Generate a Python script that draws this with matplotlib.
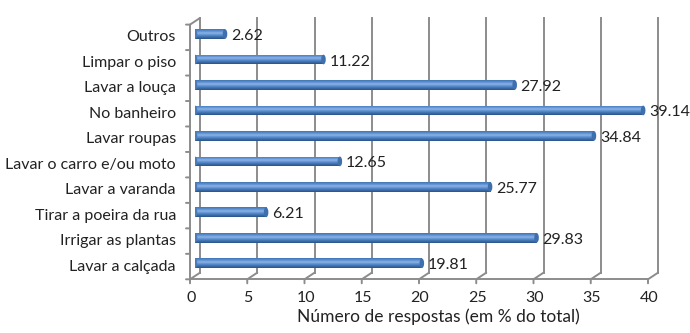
import numpy as np
import matplotlib
matplotlib.use("Agg")
import matplotlib.pyplot as plt
import matplotlib.transforms as mtransforms
from matplotlib.patches import Ellipse
from matplotlib.colors import LinearSegmentedColormap

plt.rcParams['font.family'] = ['Lato', 'DejaVu Sans']

# categories, bottom to top
categorias = ["Lavar a calçada", "Irrigar as plantas", "Tirar a poeira da rua",
              "Lavar a varanda", "Lavar o carro e/ou moto", "Lavar roupas",
              "No banheiro", "Lavar a louça", "Limpar o piso", "Outros"]
valores = [19.81, 29.83, 6.21, 25.77, 12.65, 34.84, 39.14, 27.92, 11.22, 2.62]
xticks = [0, 5, 10, 15, 20, 25, 30, 35, 40]

fig = plt.figure(figsize=(6.9, 3.33), dpi=100)
W, H = 690, 333
ax = fig.add_axes([195 / W, 57 / H, 458 / W, 254.7 / H])
ax.set_xlim(0, 40)
ax.set_ylim(-0.5, 9.5)
ax.axis('off')

grid = '#8c8c8c'
txt = '#222222'
dx, dy = 5.0, 3.3  # half depth of the 3D box, px


def shift(base, px, py):
    return base + mtransforms.ScaledTranslation(px / 100, py / 100, fig.dpi_scale_trans)


back = shift(ax.transData, dx, dy)
front = shift(ax.transData, -dx, -dy)
ymin, ymax = -0.5, 9.5
seg = dict(arrowstyle='-', color=grid, lw=1.4, shrinkA=0, shrinkB=0)

# back wall gridlines and floor lines
for v in xticks:
    ax.plot([v, v], [ymin, ymax], color=grid, lw=1.4, transform=back, clip_on=False, zorder=1)
    ax.annotate('', xy=(v, ymin), xycoords=back, xytext=(v, ymin), textcoords=front, arrowprops=seg)

# front floor edge, ticks and tick labels
ax.plot([0, 40], [ymin, ymin], color=grid, lw=1.4, transform=front, clip_on=False)
tick_tr = shift(front, 0, -4)
for v in xticks:
    ax.annotate('', xy=(v, ymin), xycoords=front, xytext=(v, ymin), textcoords=tick_tr, arrowprops=seg)
    ax.text(v, ymin, str(v), transform=shift(tick_tr, 1, -8), ha='center', va='top',
            fontsize=11.5, color=txt)

# left wall: front edge, top connector and category ticks
ax.plot([0, 0], [ymin, ymax], color=grid, lw=1.4, transform=front, clip_on=False)
ax.annotate('', xy=(0, ymax), xycoords=back, xytext=(0, ymax), textcoords=front, arrowprops=seg)
left_tr = shift(front, -4, 0)
for b in np.arange(ymin, ymax + 0.01, 1.0):
    ax.annotate('', xy=(0, b), xycoords=front, xytext=(0, b), textcoords=left_tr, arrowprops=seg)

# cylinder-like bars
cmap = LinearSegmentedColormap.from_list(
    'cyl', ['#2a5387', '#3d6eab', '#5a8fd0', '#8cb3e5', '#5c90d0', '#4274b2'])
grad = np.linspace(0, 1, 64).reshape(-1, 1)
h = 0.38
lab_tr = shift(ax.transData, 6, -2)
for i, v in enumerate(valores):
    bar = ax.barh(i, v, height=h, color='#4f81bd', zorder=3)[0]
    im = ax.imshow(grad, extent=[0, v, i - h / 2, i + h / 2], aspect='auto', cmap=cmap,
                   origin='lower', zorder=4)
    im.set_clip_path(bar)
    ax.add_patch(Ellipse((0, i), 0.4, h, facecolor='#4a7cba', edgecolor='none', zorder=4))
    ax.add_patch(Ellipse((v, i), 0.4, h, facecolor='#3f70ae', edgecolor='none', zorder=5))
    ax.text(v, i, f'{v:.2f}', transform=lab_tr, ha='left', va='center', fontsize=11.5,
            color=txt, zorder=6)

# category labels
cat_tr = shift(front, -14, 0)
for i, c in enumerate(categorias):
    ax.text(0, i, c, transform=cat_tr, ha='right', va='center', fontsize=11.5, color=txt)

fig.text(438 / W, 1 - 317 / H, 'Número de respostas (em % do total)', ha='center', va='center',
         fontsize=12.5, color=txt)

fig.savefig('out.png', dpi=100, facecolor='white')
